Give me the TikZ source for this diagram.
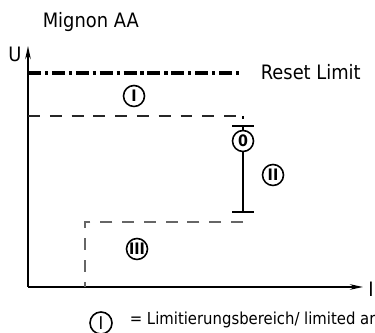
\documentclass[tikz,border=0pt]{standalone}
\usepackage{fontspec}
\setmainfont{DejaVu Sans}[FakeStretch=0.9]
\usetikzlibrary{arrows.meta,positioning}

\begin{document}
\begin{tikzpicture}[
    x = 0.02cm, y = -0.02cm, % one unit is one pixel, y runs down
    > = {Stealth[length=2.6mm,width=1.1mm]}, % arrow head style
    line width = 1.1pt % line style
    ]

    \tikzset{
    label text/.style = {font = \fontsize{11.3}{13}\selectfont},
    region/.style = {circle, draw = black, line width = 0.9pt, inner sep = 0pt,
        minimum size = 0.42cm, font = \fontsize{9}{10}\selectfont\bfseries},
    limit/.style = {line width = 1.8pt, dash pattern = on 7.4pt off 2.2pt on 1.8pt off 2.2pt},
    zone/.style = {line width = 0.7pt, dash pattern = on 6.8pt off 5.6pt},
    tick/.style = {line width = 0.9pt}
    }
    \useasboundingbox (0,0) rectangle (375,333);

    % axes
    \coordinate (o) at (28,287);
    \coordinate (ytop) at (28,46);
    \coordinate (xend) at (363,287);
    \draw[->] (o) -- (ytop);
    \draw[->] (o) -- (xend);
    \node[label text] (u) at (15,54) {U};
    \node[label text] (i) at (371,289) {I};
    \node[label text, anchor=west] (title) at (36,22) {Mignon AA};

    % reset limit
    \coordinate (r1) at (28,73);
    \coordinate (r2) at (243,73);
    \draw[limit] (r1) -- (r2);
    \node[label text, anchor=west] (reset) at (254,72) {Reset Limit};

    % limited area
    \coordinate (a1) at (28,116);
    \coordinate (a2) at (243,116);
    \coordinate (a3) at (243,119);
    \draw[zone, black!85] (a1) -- (a2);
    \draw[line width=0.7pt] (a2) -- (a3);
    \node[region] (n1) at (134,96) {I};

    % working point
    \node[region] (n0) at (243,141) {0};
    \coordinate (top) at (243,126);
    \coordinate (bot) at (243,212);
    \draw[tick] (n0) -- (top);
    \draw[tick] ([xshift=-6]top) -- ([xshift=6]top);
    \draw[tick] (n0) -- (bot);
    \draw[tick] ([xshift=-6]bot) -- ([xshift=6]bot);
    \node[region] (n2) at (273,175) {II};

    % lower area
    \coordinate (b1) at (243,222);
    \coordinate (b2) at (85,222);
    \coordinate (b3) at (85,287);
    \draw[zone, line width=1pt, black!60] (b1) -- (b2) -- (b3);
    \node[region] (n3) at (137,249) {III};

    % legend
    \node[region, minimum size=0.44cm, font=\fontsize{10}{11}\selectfont] (key) at (101,323) {I};
    \node[anchor=west, font=\fontsize{9.4}{10}\selectfont] (keytext) at (123,320) {= Limitierungsbereich/ limited area};
\end{tikzpicture}
\end{document}
